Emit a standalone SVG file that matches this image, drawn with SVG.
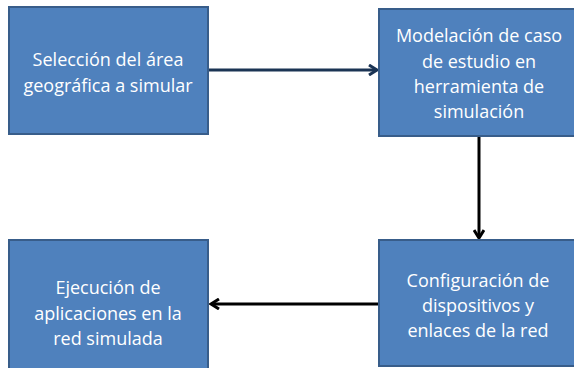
<svg xmlns="http://www.w3.org/2000/svg" width="574" height="368" viewBox="0 0 574 368">
<defs>
<style>
.box{fill:#4f81bd;stroke:#385d8a;stroke-width:2}
.t{fill:#ffffff;font-family:"Open Sans","Liberation Sans",sans-serif;font-size:18px;text-anchor:middle}
.c{fill:none;stroke-width:3}
</style>
<marker id="ahn" viewBox="0 0 12 12" refX="10" refY="6" markerWidth="12" markerHeight="12" markerUnits="userSpaceOnUse" orient="auto">
<path d="M2,1 L10,6 L2,11" fill="none" stroke="#1b3454" stroke-width="3"/>
</marker>
<marker id="ahk" viewBox="0 0 12 12" refX="10" refY="6" markerWidth="12" markerHeight="12" markerUnits="userSpaceOnUse" orient="auto">
<path d="M2,1 L10,6 L2,11" fill="none" stroke="#000000" stroke-width="3"/>
</marker>
</defs>
<rect width="574" height="368" fill="#ffffff"/>
<g id="connectors">
<line class="c" x1="209" y1="70" x2="377" y2="70" stroke="#1b3454" marker-end="url(#ahn)"/>
<line class="c" x1="479" y1="136" x2="479" y2="238" stroke="#000000" marker-end="url(#ahk)"/>
<line class="c" x1="379" y1="304" x2="211" y2="304" stroke="#000000" marker-end="url(#ahk)"/>
</g>
<g id="n1">
<rect class="box" x="9" y="7" width="199" height="127"/>
<text class="t" x="108" y="66">Selección del área</text>
<text class="t" x="108" y="92">geográfica a simular</text>
</g>
<g id="n2">
<rect class="box" x="379" y="9" width="196" height="127"/>
<text class="t" x="479" y="42">Modelación de caso</text>
<text class="t" x="479" y="68">de estudio en</text>
<text class="t" x="479" y="93">herramienta de</text>
<text class="t" x="479" y="118">simulación</text>
</g>
<g id="n3">
<rect class="box" x="9" y="240" width="199" height="130"/>
<text class="t" x="108" y="294">Ejecución de</text>
<text class="t" x="108" y="320">aplicaciones en la</text>
<text class="t" x="108" y="345">red simulada</text>
</g>
<g id="n4">
<rect class="box" x="379" y="240" width="196" height="126"/>
<text class="t" x="478" y="287">Configuración de</text>
<text class="t" x="478" y="312">dispositivos y</text>
<text class="t" x="478" y="337">enlaces de la red</text>
</g>
</svg>
